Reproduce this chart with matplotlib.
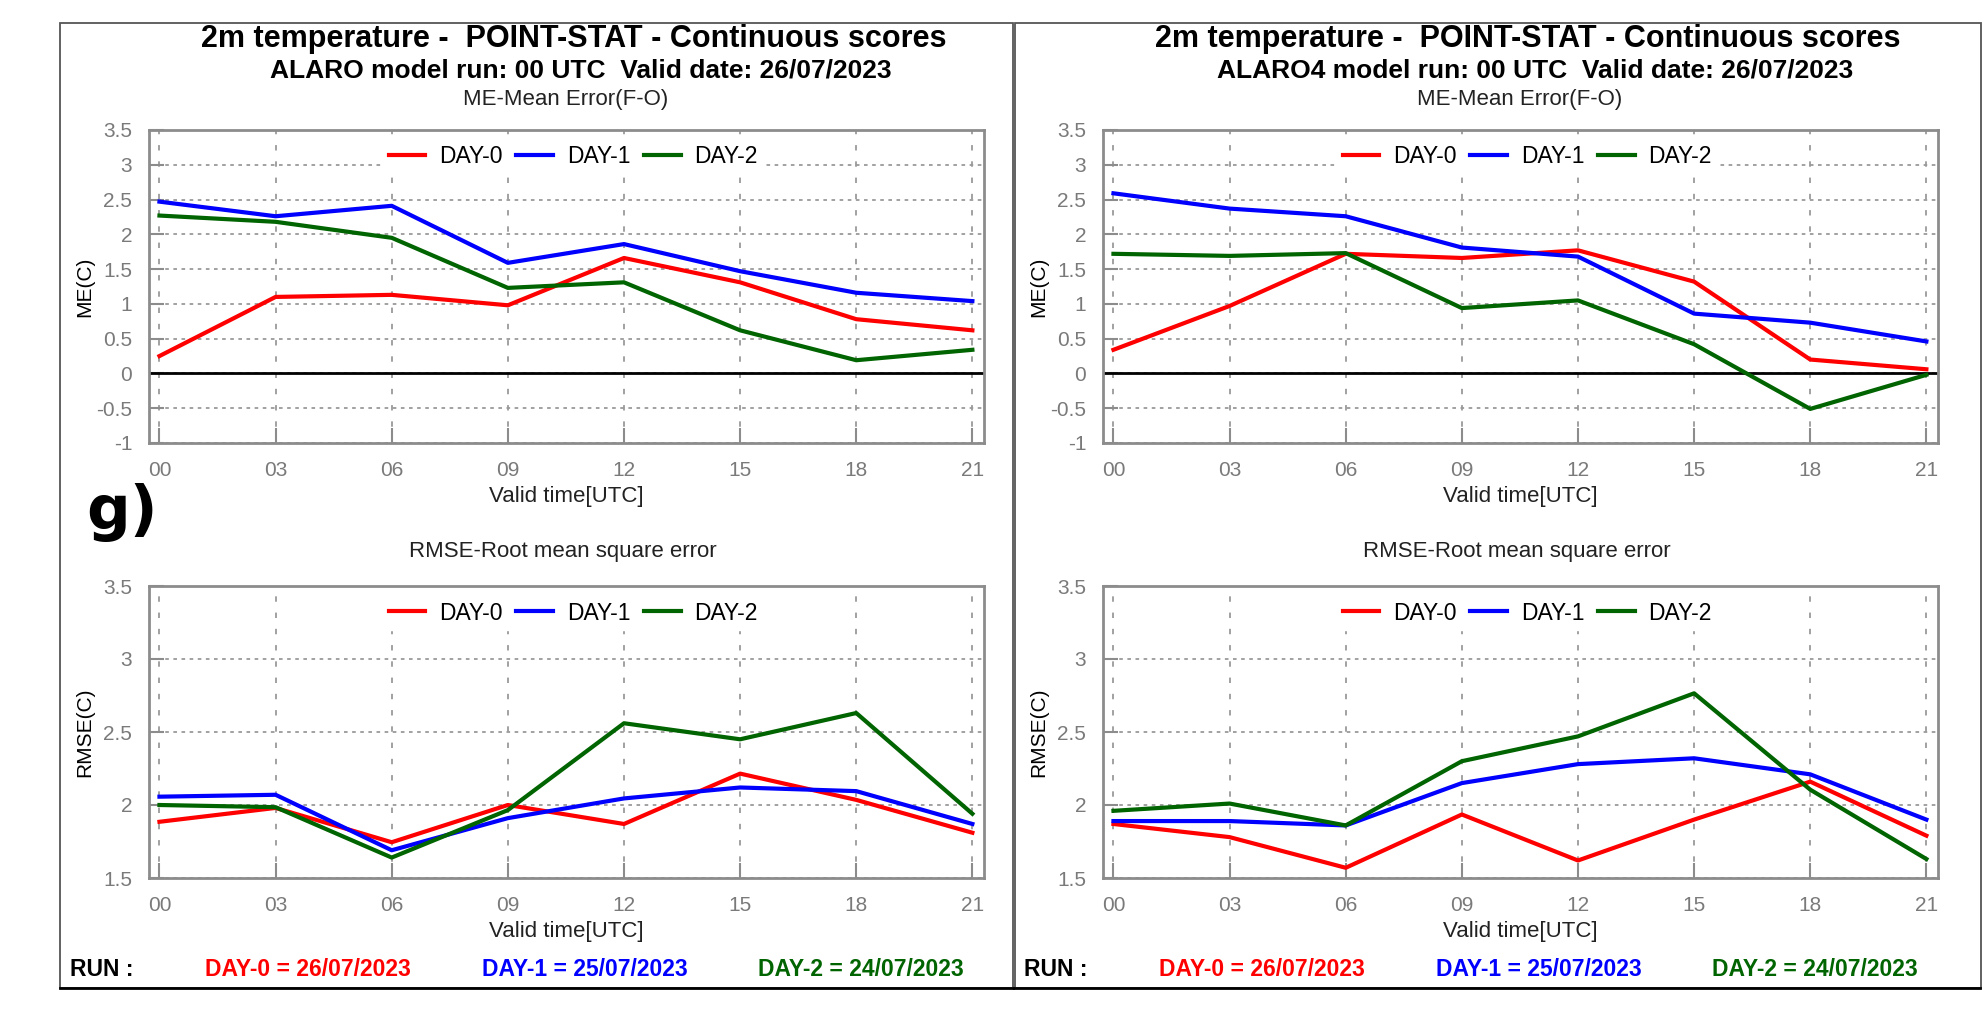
import matplotlib
matplotlib.use("Agg")
import matplotlib.pyplot as plt
from matplotlib.patches import Rectangle

plt.rcParams['font.family'] = ['Liberation Sans', 'DejaVu Sans']

# data
hours = [0, 3, 6, 9, 12, 15, 18, 21]
hour_labels = ['00', '03', '06', '09', '12', '15', '18', '21']
series_names = ['DAY-0', 'DAY-1', 'DAY-2']
series_colors = ['#ff0000', '#0000ff', '#006400']
run_dates = ['26/07/2023', '25/07/2023', '24/07/2023']

models = ['ALARO', 'ALARO4']

me_alaro_d0 = [0.25, 1.10, 1.13, 0.98, 1.66, 1.31, 0.78, 0.62]
me_alaro_d1 = [2.47, 2.26, 2.41, 1.59, 1.86, 1.47, 1.16, 1.04]
me_alaro_d2 = [2.27, 2.18, 1.95, 1.23, 1.31, 0.62, 0.19, 0.34]

me_alaro4_d0 = [0.34, 0.97, 1.72, 1.66, 1.77, 1.32, 0.20, 0.06]
me_alaro4_d1 = [2.59, 2.37, 2.26, 1.81, 1.68, 0.86, 0.73, 0.46]
me_alaro4_d2 = [1.72, 1.69, 1.73, 0.94, 1.05, 0.42, -0.51, -0.02]

rmse_alaro_d0 = [1.885, 1.98, 1.745, 2.00, 1.87, 2.215, 2.035, 1.81]
rmse_alaro_d1 = [2.057, 2.07, 1.69, 1.91, 2.045, 2.12, 2.095, 1.87]
rmse_alaro_d2 = [2.00, 1.985, 1.64, 1.965, 2.56, 2.45, 2.63, 1.94]

rmse_alaro4_d0 = [1.87, 1.78, 1.57, 1.935, 1.62, 1.90, 2.16, 1.79]
rmse_alaro4_d1 = [1.89, 1.89, 1.86, 2.15, 2.28, 2.32, 2.21, 1.90]
rmse_alaro4_d2 = [1.96, 2.01, 1.86, 2.30, 2.47, 2.765, 2.105, 1.63]

me_data = [[me_alaro_d0, me_alaro_d1, me_alaro_d2],
           [me_alaro4_d0, me_alaro4_d1, me_alaro4_d2]]
rmse_data = [[rmse_alaro_d0, rmse_alaro_d1, rmse_alaro_d2],
             [rmse_alaro4_d0, rmse_alaro4_d1, rmse_alaro4_d2]]

W, H = 1987, 1030
fig = plt.figure(figsize=(W / 100, H / 100), dpi=100)
fig.patch.set_facecolor('white')

def px_axes(left, top, width, height):
    return fig.add_axes([left / W, 1 - (top + height) / H, width / W, height / H])

def ftext(x, y, s, **kw):
    fig.text(x / W, 1 - y / H, s, **kw)

def style_axes(ax, ylim, yticks, ylabel):
    ax.set_xlim(-0.27, 21.3)
    ax.set_ylim(*ylim)
    ax.set_xticks(hours)
    ax.set_xticklabels(hour_labels)
    ax.set_yticks(yticks)
    ax.set_yticklabels(['%g' % t for t in yticks])
    for s in ax.spines.values():
        s.set_color('#8c8c8c')
        s.set_linewidth(2)
    ax.tick_params(direction='in', length=11, width=1.5, color='#8c8c8c',
                   labelcolor='#7a7a7a', labelsize=15)
    ax.tick_params(axis='y', pad=12)
    ax.tick_params(axis='x', pad=13)
    ax.xaxis.grid(True, color='#9a9a9a', linestyle=(0, (3, 6)), linewidth=1.3)
    ax.yaxis.grid(True, color='#9a9a9a', linestyle=(0, (2, 2.5)), linewidth=1.3)
    ax.set_axisbelow(True)
    ax.set_ylabel(ylabel, fontsize=15, color='black')
    ax.yaxis.set_label_coords(-0.066, 0.5)
    ax.set_xlabel('Valid time[UTC]', fontsize=16, color='#222222', labelpad=4)

def add_legend(ax):
    leg = ax.legend(loc='center', bbox_to_anchor=(0.508, 1 - 27 / ax.bbox.height),
                    ncol=3, frameon=True, fontsize=16.5, handlelength=1.6,
                    handletextpad=0.6, columnspacing=0.6, borderpad=0.25,
                    fancybox=False)
    leg.get_frame().set_facecolor('white')
    leg.get_frame().set_edgecolor('white')
    leg.get_frame().set_alpha(1)

for k, model in enumerate(models):
    dx = k * 954
    # panel frame
    fig.patches.append(Rectangle(((60 + dx + (1 if k else 0)) / W, 1 - 988 / H),
                                 (953 + (13 if k else 0)) / W, 965 / H,
                                 transform=fig.transFigure, fill=False,
                                 edgecolor='#555555', linewidth=1.3))
    fig.add_artist(plt.Line2D([(60 + dx) / W, (60 + dx + 953 + (13 if k else 0)) / W],
                              [1 - 988 / H, 1 - 988 / H], color='black', linewidth=2,
                              transform=fig.transFigure))

    cx = 566 + dx
    ftext(cx + 8, 38.5, '2m temperature -  POINT-STAT - Continuous scores',
          ha='center', va='center', fontsize=22, fontweight='bold')
    ftext(cx + 15, 71, '%s model run: 00 UTC  Valid date: 26/07/2023' % model,
          ha='center', va='center', fontsize=19, fontweight='bold')
    ftext(cx, 99, 'ME-Mean Error(F-O)', ha='center', va='center', fontsize=16, color='#222222')
    ftext(cx - 3, 552, 'RMSE-Root mean square error', ha='center', va='center',
          fontsize=16, color='#222222')

    ax1 = px_axes(149 + dx, 130, 835, 313)
    style_axes(ax1, (-1, 3.5), [-1, -0.5, 0, 0.5, 1, 1.5, 2, 2.5, 3, 3.5], 'ME(C)')
    ax1.axhline(0, color='black', linewidth=2, zorder=2)
    for vals, name, col in zip(me_data[k], series_names, series_colors):
        ax1.plot(hours, vals, color=col, linewidth=3, label=name, zorder=3)
    add_legend(ax1)

    ax2 = px_axes(149 + dx, 586, 835, 292)
    style_axes(ax2, (1.5, 3.5), [1.5, 2, 2.5, 3, 3.5], 'RMSE(C)')
    for vals, name, col in zip(rmse_data[k], series_names, series_colors):
        ax2.plot(hours, vals, color=col, linewidth=3, label=name, zorder=3)
    add_legend(ax2)

    # footer
    ftext(70 + dx, 970, 'RUN :', ha='left', va='center', fontsize=16.5, fontweight='bold')
    for cxf, name, col, d in zip([308, 585, 861], series_names, series_colors, run_dates):
        ftext(cxf + dx, 970, '%s = %s' % (name, d), ha='center', va='center',
              fontsize=16.5, fontweight='bold', color=col)

ftext(86, 513, 'g)', ha='left', va='center', fontsize=44, fontweight='bold',
      family='DejaVu Sans')

fig.savefig('out.png', dpi=100)
